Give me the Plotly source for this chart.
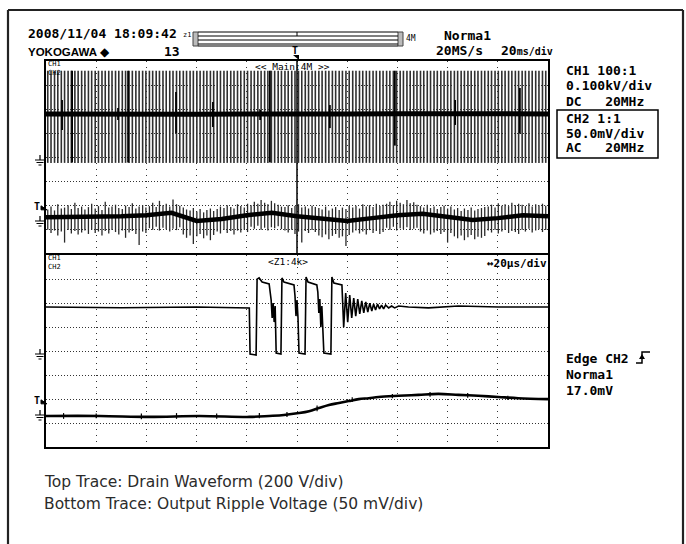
import plotly.graph_objects as go

W, H = 686, 544

# ---------------- data ----------------
# Main window (20 ms/div): drain switching bursts, CH1 in volts
PULSE_T = [
    0.7, 2.0, 3.4, 4.7, 6.1, 7.4, 8.8, 10.1, 11.5, 12.8,
    14.2, 15.5, 16.9, 18.2, 19.6, 20.9, 22.3, 23.6, 25.0, 26.3,
    27.7, 29.0, 30.4, 31.7, 33.1, 34.4, 35.8, 37.1, 38.5, 39.8,
    41.2, 42.5, 43.9, 45.2, 46.6, 47.9, 49.3, 50.6, 52.0, 53.3,
    54.7, 56.0, 57.4, 58.7, 60.1, 61.4, 62.8, 64.1, 65.5, 66.8,
    68.2, 69.5, 70.9, 72.2, 73.6, 74.9, 76.3, 77.6, 79.0, 80.3,
    81.7, 83.0, 84.4, 85.7, 87.1, 88.4, 89.8, 91.1, 92.5, 93.8,
    95.2, 96.5, 97.9, 99.2, 100.6, 101.9, 103.3, 104.6, 106.0, 107.3,
    108.7, 110.0, 111.4, 112.7, 114.1, 115.4, 116.8, 118.1, 119.5, 120.8,
    122.2, 123.5, 124.9, 126.2, 127.6, 128.9, 130.3, 131.6, 133.0, 134.3,
    135.7, 137.0, 138.4, 139.7, 141.1, 142.4, 143.8, 145.1, 146.5, 147.8,
    149.2, 150.5, 151.9, 153.2, 154.6, 155.9, 157.3, 158.6, 160.0, 161.3,
    162.7, 164.0, 165.4, 166.7, 168.1, 169.4, 170.8, 172.1, 173.5, 174.8,
    176.2, 177.5, 178.9, 180.2, 181.6, 182.9, 184.3, 185.6, 187.0, 188.3,
    189.7, 191.0, 192.4, 193.7, 195.1, 196.4, 197.8, 199.1,
]
DRAIN_PEAK_V = 372
DRAIN_LOW_V = -12
DRAIN_DC_T = [0, 20, 40, 60, 80, 100, 120, 140, 160, 180, 200]
DRAIN_DC_V = [192, 190, 193, 191, 192, 190, 192, 193, 191, 192, 192]
DARK_T = [6.4, 10.4, 28.7, 32.7, 51.8, 66.5, 85.3, 89.2, 113.1, 139.0, 163.0, 188.8]
DARK_TOP = [250, 372, 217, 372, 283, 242, 208, 372, 229, 372, 250, 300]
DARK_BOT = [125, -10, 167, -10, 112, 137, 167, -10, 133, 60, 146, 110]

# Main window: output ripple, CH2 in mV
RIP_BAND_T = [0, 10, 20, 30, 40, 50, 60, 70, 80, 90, 100,
              110, 120, 130, 140, 150, 160, 170, 180, 190, 200]
RIP_BAND_MV = [8, 8, 10, 10, 12, 17, 0, 4, 12, 17, 10,
               4, 0, 6, 12, 15, 8, 2, 6, 12, 10]
RIP_HI = [
    24, 30, 22, 35, 26, 28, 33, 25, 38, 27,
    30, 24, 29, 36, 26, 31, 23, 40, 28, 30,
    34, 27, 25, 32, 29, 37, 26, 30, 33, 28,
    31, 38, 29, 42, 33, 36, 30, 45, 35, 32,
    28, 24, 22, 27, 20, 25, 18, 23, 26, 21,
    25, 30, 27, 33, 29, 26, 35, 31, 28, 36,
    33, 40, 36, 44, 38, 35, 42, 37, 34, 30,
    29, 33, 27, 31, 35, 28, 30, 26, 32, 29,
    27, 24, 30, 22, 26, 29, 23, 28, 25, 31,
    28, 32, 26, 35, 30, 33, 29, 36, 31, 34,
    36, 40, 33, 42, 38, 35, 44, 37, 39, 34,
    31, 28, 34, 27, 30, 25, 29, 32, 26, 30,
    24, 27, 21, 26, 23, 28, 22, 25, 27, 29,
    30, 34, 28, 37, 32, 35, 31, 38, 33, 36,
    34, 31, 37, 30, 35, 33, 36, 32,
]
RIP_LO = [
    -18, -25, -20, -30, -22, -45, -19, -26, -21, -28,
    -24, -20, -27, -18, -25, -22, -30, -21, -26, -19,
    -23, -28, -20, -35, -24, -21, -27, -50, -22, -25,
    -15, -18, -12, -20, -14, -17, -22, -16, -19, -13,
    -28, -35, -30, -48, -32, -27, -36, -30, -40, -29,
    -22, -26, -19, -25, -21, -28, -20, -24, -18, -23,
    -12, -16, -10, -18, -14, -20, -13, -15, -11, -17,
    -20, -24, -18, -27, -22, -45, -21, -25, -19, -23,
    -30, -34, -28, -38, -31, -27, -35, -32, -52, -29,
    -24, -20, -26, -22, -28, -19, -25, -21, -27, -23,
    -14, -18, -12, -20, -15, -17, -13, -19, -16, -14,
    -22, -26, -20, -28, -24, -21, -27, -23, -45, -25,
    -32, -36, -30, -40, -34, -29, -38, -33, -35, -31,
    -20, -24, -18, -26, -22, -19, -25, -21, -23, -27,
    -18, -22, -16, -24, -20, -17, -23, -19,
]

# Zoom window (20 us/div): drain burst, CH1 in volts
Z_DRAIN_T = [0, 30, 60, 81.0, 81.3, 83.7, 84.1, 84.9, 86.1, 88.9, 89.7, 90.1, 90.5,
             90.9, 91.3, 91.7, 93.6, 94.0, 94.8, 98.8, 99.2, 99.6, 100.0, 100.4,
             100.8, 103.2, 103.6, 104.4, 107.9, 108.3, 108.7, 109.1, 109.5, 109.9,
             110.7, 113.5, 113.9, 114.7, 117.9, 118.6, 119.4, 120.2, 121.0, 121.8,
             122.6, 123.4, 124.2, 125.0, 125.8, 126.6, 127.4, 128.2, 129.0, 129.8,
             130.5, 131.3, 132.1, 132.9, 133.7, 134.5, 135.3, 136.5, 137.7, 138.9,
             140.5, 144.4, 152.4, 164.3, 180.2, 200]
Z_DRAIN_V = [196, 193, 196, 192, 0, -4, 312, 317, 300, 292, 225, 150, 212,
             133, 200, 4, 0, 317, 300, 288, 242, 158, 225, 150,
             4, 0, 321, 300, 288, 258, 171, 229, 112, 200,
             4, 0, 321, 296, 288, 112, 254, 133, 246, 150,
             233, 158, 229, 167, 221, 171, 217, 175, 212, 179,
             208, 183, 208, 188, 204, 188, 204, 192, 200, 192,
             200, 196, 192, 200, 196, 196]

# Zoom window: output ripple, CH2 in mV
Z_RIP_T = [0, 21.4, 41.3, 61.1, 81.0, 88.9, 94.8, 100.8, 104.8, 108.7, 112.7,
           116.7, 120.6, 124.6, 128.6, 132.5, 140.5, 148.4, 156.3, 164.3, 172.2,
           180.2, 188.1, 200]
Z_RIP_MV = [-2, -2, -4, -2, -4, -2, 0, 4, 8, 14.6, 21,
            25, 29, 33, 35, 37.5, 40, 42, 44, 42, 40,
            37.5, 35, 33]
Z_TICK_T = [7, 20, 38, 52, 68, 85, 96, 108, 122, 138, 153, 168, 184]
Z_TICK_HI = [4, 3, 3, 4, 3, 4, 6, 20, 37, 44, 48, 46, 40]
Z_TICK_LO = [-8, -7, -9, -8, -8, -7, -4, 8, 27, 35, 38, 36, 31]

TRIG_T_MS = 100
TRIG_LEVEL_MV = 17

CH1_RANGE = [-387.5, 412.5]     # 100 V/div, 8 div
CH2_RANGE = [-66.67, 333.33]    # 50 mV/div, 8 div
T_RANGE = [0, 200]              # 10 div

# ---------------- helpers ----------------
def px(x, y):
    return x / W, 1 - y / H

MONO = "DejaVu Sans Mono"
annotations = []
shapes = []


def text(x, y, s, size=13, bold=True, anchor="left", family=MONO, color="black"):
    xp, yp = px(x, y)
    annotations.append(dict(
        x=xp, y=yp, xref="paper", yref="paper", text=s, showarrow=False,
        xanchor=anchor, yanchor="middle", borderpad=0,
        font=dict(family=family, size=size, color=color,
                  weight="bold" if bold else "normal")))


def seg(x0, y0, x1, y1, width=1, color="black"):
    a, b = px(x0, y0)
    c, d = px(x1, y1)
    shapes.append(dict(type="line", xref="paper", yref="paper", x0=a, y0=b, x1=c, y1=d,
                       line=dict(color=color, width=width)))


def poly(points, fill="black", width=0, color="black", close=True):
    p = " ".join(("M" if i == 0 else "L") + "{:.5f},{:.5f}".format(*px(x, y))
                 for i, (x, y) in enumerate(points))
    if close:
        p += " Z"
    shapes.append(dict(type="path", xref="paper", yref="paper", path=p,
                       fillcolor=fill if close else None,
                       line=dict(color=color, width=width)))


def rect(x0, y0, x1, y1, width=1, color="black", fill=None):
    a, b = px(x0, y1)
    c, d = px(x1, y0)
    shapes.append(dict(type="rect", xref="paper", yref="paper", x0=a, y0=b, x1=c, y1=d,
                       line=dict(color=color, width=width), fillcolor=fill))


# ---------------- traces ----------------
fig = go.Figure()

# main window: drain pulses
xs, ys = [], []
for t in PULSE_T:
    xs += [t, t, None]
    ys += [DRAIN_LOW_V, DRAIN_PEAK_V, None]
fig.add_trace(go.Scatter(x=xs, y=ys, mode="lines", xaxis="x", yaxis="y",
                         line=dict(color="#303030", width=1.6)))
xs, ys = [], []
for t, a, b in zip(DARK_T, DARK_BOT, DARK_TOP):
    xs += [t, t, None]
    ys += [a, b, None]
fig.add_trace(go.Scatter(x=xs, y=ys, mode="lines", xaxis="x", yaxis="y",
                         line=dict(color="black", width=1.8)))
fig.add_trace(go.Scatter(x=DRAIN_DC_T, y=DRAIN_DC_V, mode="lines", xaxis="x", yaxis="y",
                         line=dict(color="black", width=5)))

# main window: ripple
xs, ys = [], []
for t, a, b in zip(PULSE_T, RIP_LO, RIP_HI):
    xs += [t, t, None]
    ys += [a, b, None]
fig.add_trace(go.Scatter(x=xs, y=ys, mode="lines", xaxis="x", yaxis="y2",
                         line=dict(color="#2a2a2a", width=1.3)))
fig.add_trace(go.Scatter(x=RIP_BAND_T, y=RIP_BAND_MV, mode="lines", xaxis="x", yaxis="y2",
                         line=dict(color="black", width=4.5)))

# zoom window: drain
fig.add_trace(go.Scatter(x=Z_DRAIN_T, y=Z_DRAIN_V, mode="lines", xaxis="x2", yaxis="y3",
                         line=dict(color="black", width=1.6)))
# zoom window: ripple
fig.add_trace(go.Scatter(x=Z_RIP_T, y=Z_RIP_MV, mode="lines", xaxis="x2", yaxis="y4",
                         line=dict(color="black", width=2.6, shape="spline")))
xs, ys = [], []
for t, a, b in zip(Z_TICK_T, Z_TICK_LO, Z_TICK_HI):
    xs += [t, t, None]
    ys += [a, b, None]
fig.add_trace(go.Scatter(x=xs, y=ys, mode="lines", xaxis="x2", yaxis="y4",
                         line=dict(color="black", width=1.2)))

# ---------------- axes ----------------
PX0, PX1 = 46, 548
UP_T, UP_B = 61, 253
LO_T, LO_B = 255, 447

xdom = [PX0 / W, PX1 / W]
updom = [1 - UP_B / H, 1 - UP_T / H]
lodom = [1 - LO_B / H, 1 - LO_T / H]

grid_x = dict(showgrid=True, gridcolor="#333", gridwidth=1, griddash="1px,5px",
              showline=True, mirror=True, linecolor="black", linewidth=1.5,
              showticklabels=False, ticks="", zeroline=False, fixedrange=True,
              range=T_RANGE, tick0=0, dtick=20)
grid_y = dict(showgrid=True, gridcolor="#333", gridwidth=1, griddash="1px,2px",
              showline=True, mirror=True, linecolor="black", linewidth=1.5,
              showticklabels=False, ticks="", zeroline=False, fixedrange=True,
              range=CH1_RANGE, tick0=CH1_RANGE[0], dtick=100)
hidden = dict(visible=False, showgrid=False, zeroline=False, fixedrange=True, range=CH2_RANGE)

fig.update_layout(
    width=W, height=H, margin=dict(l=0, r=0, t=0, b=0),
    paper_bgcolor="white", plot_bgcolor="white", showlegend=False, hovermode=False,
    xaxis=dict(grid_x, domain=xdom, anchor="y"),
    yaxis=dict(grid_y, domain=updom, anchor="x"),
    yaxis2=dict(hidden, overlaying="y", anchor="x"),
    xaxis2=dict(grid_x, domain=xdom, anchor="y3"),
    yaxis3=dict(grid_y, domain=lodom, anchor="x2"),
    yaxis4=dict(hidden, overlaying="y3", anchor="x2"),
)

# trigger position line in main window
shapes.append(dict(type="line", xref="x", yref="y domain", x0=TRIG_T_MS, x1=TRIG_T_MS,
                   y0=0, y1=1, line=dict(color="black", width=1.5)))

# ground markers and trigger-level markers
for yref in ["y", "y2", "y3", "y4"]:
    shapes.append(dict(type="path", xref="paper", yref=yref, xsizemode="pixel", ysizemode="pixel",
                       xanchor=40 / W, yanchor=0,
                       path="M0,5 L0,0 M-5,0 L5,0 M-3.5,-2.5 L3.5,-2.5 M-1.5,-5 L1.5,-5",
                       line=dict(color="black", width=1.2)))
for yref in ["y2", "y4"]:
    annotations.append(dict(x=37 / W, y=TRIG_LEVEL_MV, xref="paper", yref=yref, text="T",
                            showarrow=False, xanchor="center", yanchor="middle", yshift=6,
                            font=dict(family=MONO, size=10, color="black", weight="bold")))
    shapes.append(dict(type="path", xref="paper", yref=yref, xsizemode="pixel", ysizemode="pixel",
                       xanchor=41 / W, yanchor=TRIG_LEVEL_MV,
                       path="M0,7 L6,3 L0,3 Z", fillcolor="black",
                       line=dict(color="black", width=1)))

# ---------------- outer frame ----------------
seg(8, 10, 683, 10, width=2.2, color="#222")
seg(8, 10, 8, 544, width=2.2, color="#222")
seg(683, 10, 683, 544, width=2.2, color="#222")

# ---------------- header ----------------
text(27, 33, "2008/11/04 18:09:42", 13)
text(27, 52, "YOKOGAWA", 11.5, True, family="Liberation Sans")
text(99, 52, "◆", 12, False, family="DejaVu Sans")
text(163, 51, "13", 13)
text(182, 35, "z1", 7, False)
rect(193, 32, 198, 46, width=1, color="#444", fill="#bbb")
rect(398, 32, 403, 46, width=1, color="#444", fill="#bbb")
for yy in [32, 36, 40, 44, 46]:
    seg(198, yy, 398, yy, width=1)
seg(297, 32, 297, 36, width=1)
text(405, 39, "4M", 8, False)
text(291, 50, "T", 10, True)
poly([(293, 55), (299, 55), (299, 60)])
text(443, 35, "Norma1", 13)
text(435, 50, "20MS/s", 13)
text(500, 50, "20<span style='font-size:10px'>ms/div</span>", 13)

# ---------------- right info ----------------
text(565, 70, "CH1 100:1", 13)
text(565, 85, "0.100kV/div", 13)
text(565, 101, "DC   20MHz", 13)
rect(557, 110, 658, 158, width=1.5)
text(565, 118, "CH2 1:1", 13)
text(565, 133, "50.0mV/div", 13)
text(565, 148, "AC   20MHz", 13)
text(565, 358, "Edge CH2", 13)
poly([(636, 363), (642, 363), (642, 352), (650, 352)], close=False, width=1.5)
poly([(639, 359), (645, 359), (642, 354)])
text(565, 374, "Norma1", 13)
text(565, 390, "17.0mV", 13)

# ---------------- panel labels ----------------
text(47, 64, "CH1", 7, False)
text(47, 73, "CH2", 7, False)
text(292, 66, "<< Main:4M >>", 9.5, False, anchor="center")
text(47, 258, "CH1", 7, False)
text(47, 267, "CH2", 7, False)
text(288, 261, "<Z1:4k>", 9.5, False, anchor="center")
text(548, 263, "↔20µs/div", 11, True, anchor="right")

# ---------------- caption ----------------
text(43, 482, "Top Trace: Drain Waveform (200 V/div)", 15.5, False, family="DejaVu Sans", color="#2b2b2b")
text(43, 504, "Bottom Trace: Output Ripple Voltage (50 mV/div)", 15.5, False, family="DejaVu Sans", color="#2b2b2b")

fig.update_layout(annotations=annotations, shapes=shapes)
fig.write_html("out.html", config={"displayModeBar": False},
               post_script="document.body.style.margin='0';document.body.style.overflow='hidden';")
